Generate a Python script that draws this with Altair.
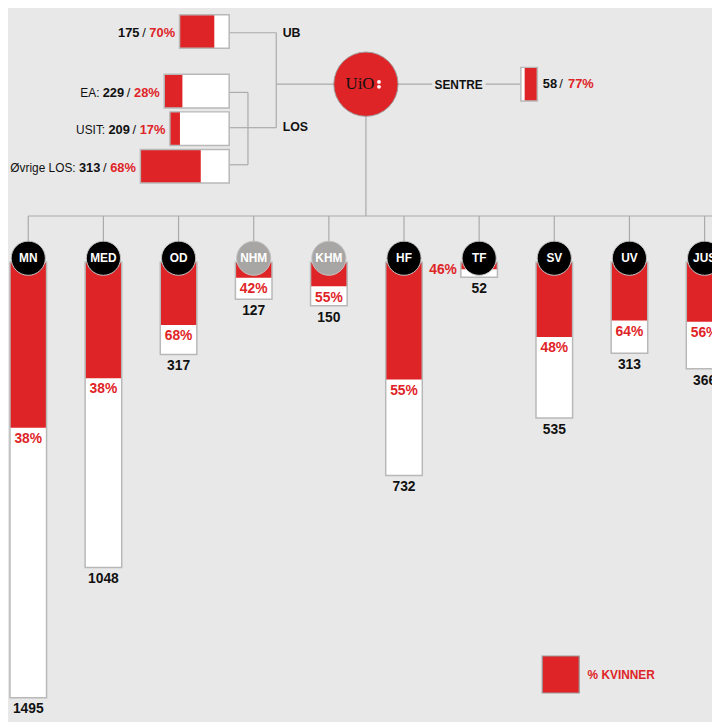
import math
import altair as alt
import pandas as pd

# ---------------- data ----------------
fac_names = ["MN", "MED", "OD", "NHM", "KHM", "HF", "TF", "SV", "UV", "JUS"]
fac_counts = [1495, 1048, 317, 127, 150, 732, 52, 535, 313, 366]
fac_pct = [38, 38, 68, 42, 55, 55, 46, 48, 64, 56]
fac_museum = [0, 0, 0, 1, 1, 0, 0, 0, 0, 0]

los_labels = ["EA:", "USIT:", "Øvrige LOS:"]
los_counts = [229, 209, 313]
los_pct = [28, 17, 68]

ub_count, ub_pct = 175, 70
sentre_count, sentre_pct = 58, 77

# ---------------- style / layout ----------------
BG = "#e8e8e8"
RED = "#df2427"
LINE = "#aaaaaa"
EDGE = "#b8b8b8"
MUSEUM = "#a8a6a4"
BOLD = "Liberation Sans, Arial, sans-serif"
SANS = "Liberation Sans, Arial, sans-serif"
SERIF = "Liberation Serif, Times New Roman, serif"

OFF, W, H = 8, 712, 714   # page margin, chart size
K_V = 0.2946    # px per employee, faculty bars
K_H = 0.287     # px per employee, horizontal boxes
SLOT0, SLOT = 28.5, 76
BAR_TOP, BAR_W = 261, 37
CIRC_Y, CIRC_R = 257, 19.5
TREE_Y = 214.3
UIO_X, UIO_Y, UIO_R = 370, 81, 36.7
BOX_RIGHT, BOX_H = 231.7, 34
UB_Y, LOS_Y0, LOS_DY = 27.7, 88, 38
JOIN_X, BR_X = 279.3, 250.7
SENTRE_X = 526.7

xs = alt.Scale(domain=[OFF, OFF + W], range=[0, W], nice=False, zero=False)
ys = alt.Scale(domain=[OFF, OFF + H], range=[0, H], nice=False, zero=False)


def X(f):
    return alt.X(f, type="quantitative", scale=xs, axis=None)


def Y(f):
    return alt.Y(f, type="quantitative", scale=ys, axis=None)


def texts(rows, align="center", weight="bold", size=13, font=BOLD, baseline="middle"):
    df = pd.DataFrame(rows, columns=["x", "y", "t", "c"])
    return alt.Chart(df).mark_text(
        align=align, baseline=baseline, fontWeight=weight, fontSize=size, font=font
    ).encode(x=X("x"), y=Y("y"), text="t:N", color=alt.Color("c:N", scale=None))


def rects(rows, stroke=None, sw=0, fill_opacity=1):
    df = pd.DataFrame(rows, columns=["x", "x2", "y", "y2", "c"])
    kw = dict(fillOpacity=fill_opacity)
    if stroke:
        kw.update(stroke=stroke, strokeWidth=sw)
    return alt.Chart(df).mark_rect(**kw).encode(
        x=X("x"), x2=alt.X2("x2"), y=Y("y"), y2=alt.Y2("y2"),
        fill=alt.Fill("c:N", scale=None),
    )


# ---------------- connectors ----------------
fac_x = [SLOT0 + SLOT * i for i in range(len(fac_names))]
los_y = [LOS_Y0 + LOS_DY * i for i in range(len(los_counts))]
los_line_y = [los_y[0] + 1.3, los_y[1] - 1, los_y[2] - 1.5]
segs = [
    (BOX_RIGHT, UB_Y + 1.3, JOIN_X, UB_Y + 1.3),
    (JOIN_X, UB_Y + 1.3, JOIN_X, los_line_y[1]),
    (JOIN_X, UIO_Y, UIO_X, UIO_Y),
    (BR_X, los_line_y[0], BR_X, los_line_y[2]),
    (BR_X, los_line_y[1], JOIN_X, los_line_y[1]),
    (UIO_X, UIO_Y, 437, UIO_Y),
    (491, UIO_Y, SENTRE_X, UIO_Y),
    (UIO_X, UIO_Y, UIO_X, TREE_Y),
    (SLOT0, TREE_Y, OFF + W + 5, TREE_Y),
]
for ly in los_line_y:
    segs.append((BOX_RIGHT, ly, BR_X, ly))
for cx in fac_x:
    segs.append((cx, TREE_Y, cx, CIRC_Y))
seg_df = pd.DataFrame(segs, columns=["x", "y", "x2", "y2"])
lines = alt.Chart(seg_df).mark_rule(color=LINE, strokeWidth=1.2).encode(
    x=X("x"), y=Y("y"), x2=alt.X2("x2"), y2=alt.Y2("y2")
)

# ---------------- faculty bars ----------------
bar_base, bar_red, bar_pct, bar_cnt, circ, circ_lab, pct_left = [], [], [], [], [], [], []
for cx, n, c, p, m in zip(fac_x, fac_names, fac_counts, fac_pct, fac_museum):
    bottom = BAR_TOP + c * K_V
    split = BAR_TOP + c * K_V * p / 100
    bar_base.append((cx - BAR_W / 2, cx + BAR_W / 2, BAR_TOP, bottom, "#ffffff"))
    bar_red.append((cx - BAR_W / 2, cx + BAR_W / 2, BAR_TOP, split, RED))
    if bottom - split >= 18:
        bar_pct.append((cx, split + 11.5, f"{p}%", RED))
    else:
        pct_left.append((cx - CIRC_R - 3, CIRC_Y + 11.5, f"{p}%", RED))
    bar_cnt.append((cx, bottom + 12, str(c), "#111111"))
    circ.append((cx, CIRC_Y, MUSEUM if m else "#000000"))
    circ_lab.append((cx, CIRC_Y, n, "#ffffff"))

circ_df = pd.DataFrame(circ, columns=["x", "y", "c"])
circles = alt.Chart(circ_df).mark_point(
    shape="circle", filled=True, opacity=1, stroke="#c4c4c4", strokeWidth=1,
    size=math.pi * CIRC_R ** 2,
).encode(x=X("x"), y=Y("y"), fill=alt.Fill("c:N", scale=None))

# ---------------- UiO ----------------
uio_df = pd.DataFrame([(UIO_X, UIO_Y, RED)], columns=["x", "y", "c"])
uio = alt.Chart(uio_df).mark_point(
    shape="circle", filled=True, opacity=1, stroke="#a0a0a0", strokeWidth=1,
    size=math.pi * UIO_R ** 2,
).encode(x=X("x"), y=Y("y"), fill=alt.Fill("c:N", scale=None))
dots_df = pd.DataFrame([(UIO_X + 13.2, UIO_Y - 2.3, "#ffffff"), (UIO_X + 13.2, UIO_Y + 2.7, "#ffffff")],
                       columns=["x", "y", "c"])
dots = alt.Chart(dots_df).mark_point(shape="circle", filled=True, opacity=1, size=15).encode(
    x=X("x"), y=Y("y"), fill=alt.Fill("c:N", scale=None))
uio_text = texts([(UIO_X - 6, UIO_Y + 4.5, "UiO", "#111111")], weight="normal", size=17,
                 font=SERIF, baseline="alphabetic")

# ---------------- horizontal boxes ----------------
hb_base, hb_red = [], []
ub_left = BOX_RIGHT - ub_count * K_H
hb_base.append((ub_left, BOX_RIGHT, UB_Y - BOX_H / 2, UB_Y + BOX_H / 2, "#ffffff"))
hb_red.append((ub_left, ub_left + ub_count * K_H * ub_pct / 100, UB_Y - BOX_H / 2, UB_Y + BOX_H / 2, RED))
row_pieces = []  # (R, y, prefix, count, pct)
row_pieces.append((ub_left - 4.5, UB_Y + 1.5, "", ub_count, ub_pct))
for y, lab, c, p in zip(los_y, los_labels, los_counts, los_pct):
    left = BOX_RIGHT - c * K_H
    hb_base.append((left, BOX_RIGHT, y - BOX_H / 2, y + BOX_H / 2, "#ffffff"))
    hb_red.append((left, left + c * K_H * p / 100, y - BOX_H / 2, y + BOX_H / 2, RED))
    row_pieces.append((left - 4.5, y + 1.8, lab, c, p))
s_right = SENTRE_X + sentre_count * K_H
hb_base.append((SENTRE_X, s_right, UIO_Y - BOX_H / 2, UIO_Y + BOX_H / 2, "#ffffff"))
hb_red.append((s_right - sentre_count * K_H * sentre_pct / 100, s_right,
               UIO_Y - BOX_H / 2, UIO_Y + BOX_H / 2, RED))

pct_right, slash_c, num_right, pre_right = [], [], [], []
for R, y, lab, c, p in row_pieces:
    pct_right.append((R, y, f"{p}%", RED))
    slash_c.append((R - 31.5, y, "/", "#111111"))
    num_right.append((R - 36, y, str(c), "#111111"))
    if lab:
        pre_right.append((R - 61, y, lab, "#111111"))
sx = s_right + 5.5
num_left = [(sx, UIO_Y - 0.5, str(sentre_count), "#111111")]
slash_c.append((sx + 18.5, UIO_Y - 0.5, "/", "#111111"))
pct_left_s = [(sx + 25.5, UIO_Y - 0.5, f"{sentre_pct}%", RED)]

# ---------------- legend ----------------
leg_x, leg_y, leg_s = 548.3, 659.3, 37.4
legend_box = rects([(leg_x, leg_x + leg_s, leg_y, leg_y + leg_s, RED)], stroke="#9a9a9a", sw=1.2)
legend_txt = texts([(leg_x + leg_s + 8.5, leg_y + leg_s / 2 + 0.5, "% KVINNER", RED)], align="left", size=12)

layers = [
    lines,
    rects(bar_base),
    rects(bar_red),
    rects(bar_base, stroke=EDGE, sw=1.5, fill_opacity=0),
    circles,
    texts(circ_lab, size=12, font=SANS),
    texts(bar_pct, size=14),
    texts(pct_left, align="right", size=14),
    texts(bar_cnt, size=14),
    uio, dots, uio_text,
    rects(hb_base),
    rects(hb_red),
    rects(hb_base, stroke=EDGE, sw=1.5, fill_opacity=0),
    texts(pct_right, align="right", size=13),
    texts(slash_c, weight="normal", size=13),
    texts(num_right, align="right", size=13),
    texts(pre_right, align="right", weight="normal", size=12),
    texts(num_left, align="left", size=13),
    texts(pct_left_s, align="left", size=13),
    texts([(JOIN_X + 6.5, UB_Y + 1.6, "UB", "#111111"), (JOIN_X + 6.5, los_y[1] - 1.7, "LOS", "#111111")],
          align="left", size=12.5),
    texts([(463.7, UIO_Y + 0.7, "SENTRE", "#111111")], size=12),
    legend_box, legend_txt,
]

chart = alt.layer(*layers).properties(
    width=W, height=H, background=BG, padding=0,
    autosize=alt.AutoSizeParams(type="none"),
).configure_view(stroke=None)

chart.save("out.html", embed_options={"renderer": "svg", "actions": False})
